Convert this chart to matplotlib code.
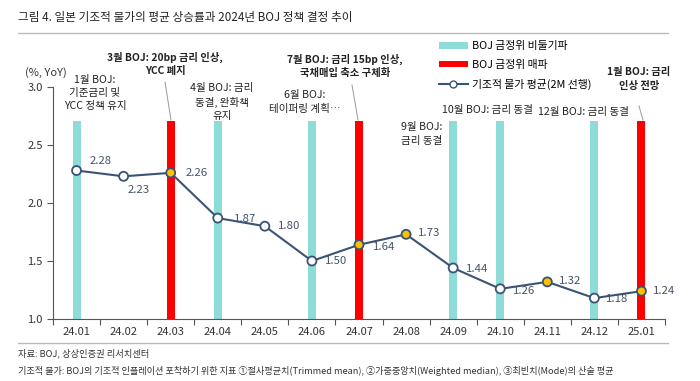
import matplotlib
matplotlib.use("Agg")
import matplotlib.pyplot as plt
from matplotlib.lines import Line2D
from matplotlib.patches import Patch

plt.rcParams['font.family'] = ['Noto Sans CJK KR', 'DejaVu Sans']

categories = ['24.01', '24.02', '24.03', '24.04', '24.05', '24.06', '24.07',
              '24.08', '24.09', '24.10', '24.11', '24.12', '25.01']
values = [2.28, 2.23, 2.26, 1.87, 1.80, 1.50, 1.64, 1.73, 1.44, 1.26, 1.32, 1.18, 1.24]
dove_idx = [0, 3, 5, 8, 9, 11]      # BOJ 금정위 비둘기파
hawk_idx = [2, 6, 12]               # BOJ 금정위 매파
yellow_idx = [2, 6, 7, 10, 12]
bar_top = 2.71
label_offsets = [(23, 9), (14, -13), (25, 0), (26, -1), (23, 0), (23, 0), (24, -2),
                 (22, 1), (23, -1), (23, -2), (22, 1), (22, -1), (22, 0)]

TEAL = '#8DDCD8'
RED = '#FF0000'
LINE = '#3B5375'
LBL = '#44546A'

fig = plt.figure(figsize=(7, 3.81), dpi=100)
ax = fig.add_axes([53/700, 1 - 319/381, 612/700, (319-87)/381])

x = list(range(len(categories)))
ax.bar(dove_idx, [bar_top - 1.0]*len(dove_idx), bottom=1.0, width=0.17, color=TEAL, zorder=1)
ax.bar(hawk_idx, [bar_top - 1.0]*len(hawk_idx), bottom=1.0, width=0.17, color=RED, zorder=1)
ax.plot(x, values, color=LINE, lw=1.5, zorder=2)
face = ['#FFC000' if i in yellow_idx else 'white' for i in x]
ax.scatter(x, values, s=42, facecolors=face, edgecolors=LINE, linewidths=1.3, zorder=3)
for i, v in enumerate(values):
    dx, dy = label_offsets[i]
    ax.annotate(f'{v:.2f}', (i, v), xytext=(dx * 0.75, dy * 0.75), textcoords='offset points',
                ha='center', va='center', fontsize=8.2, color=LBL)

ax.set_xlim(-0.5, len(categories) - 0.5)
ax.set_ylim(1.0, 3.0)
ax.set_yticks([1.0, 1.5, 2.0, 2.5, 3.0])
ax.set_yticklabels(['1.0', '1.5', '2.0', '2.5', '3.0'])
ax.set_xticks([i - 0.5 for i in range(len(categories) + 1)])
ax.set_xticklabels([])
ax.set_xticks(x, minor=True)
ax.set_xticklabels(categories, minor=True)
ax.tick_params(axis='x', which='minor', length=0, pad=6, labelsize=8, labelcolor='#333333')
ax.tick_params(axis='x', which='major', length=4, color='#555555')
ax.tick_params(axis='y', length=4, color='#555555', labelsize=8, labelcolor='#333333')
for s in ['top', 'right']:
    ax.spines[s].set_visible(False)
for s in ['left', 'bottom']:
    ax.spines[s].set_color('#555555')
    ax.spines[s].set_linewidth(0.8)

fig.text(25/700, 1 - 73/381, '(%, YoY)', fontsize=8, color='#333333', va='center')

# annotations
def ftext(px, py, s, bold=False, fs=7.6):
    fig.text(px/700, 1 - py/381, s, ha='center', va='center', fontsize=fs,
             fontweight='bold' if bold else 'normal', color='#222222', linespacing=1.4)

ftext(95, 93, '1월 BOJ:\n기준금리 및\nYCC 정책 유지')
ftext(165, 64, '3월 BOJ: 20bp 금리 인상,\nYCC 폐지', bold=True, fs=7.4)
ftext(222, 102, '4월 BOJ: 금리\n동결, 완화책\n유지')
ftext(305, 102, '6월 BOJ:\n테이퍼링 계획…')
ftext(345, 66, '7월 BOJ: 금리 15bp 인상,\n국채매입 축소 구체화', bold=True, fs=7.4)
ftext(422, 134, '9월 BOJ:\n금리 동결')
ftext(488, 110, '10월 BOJ: 금리 동결')
ftext(584, 112, '12월 BOJ: 금리 동결')
ftext(639, 79, '1월 BOJ: 금리\n인상 전망', bold=True, fs=7.4)

def leader(x0, y0, x1, y1):
    fig.add_artist(Line2D([x0/700, x1/700], [1 - y0/381, 1 - y1/381], color='#999999', lw=0.7))

leader(165, 82, 171, 120)
leader(352, 85, 358, 120)
leader(639, 106, 643, 120)

handles = [Patch(facecolor=TEAL, edgecolor='none'),
           Patch(facecolor=RED, edgecolor='none'),
           Line2D([0], [0], color=LINE, lw=1.5, marker='o', markerfacecolor='white',
                  markeredgecolor=LINE, markersize=5)]
labels = ['BOJ 금정위 비둘기파', 'BOJ 금정위 매파', '기조적 물가 평균(2M 선행)']
fig.legend(handles, labels, loc='upper left', bbox_to_anchor=(435/700, 1 - 37/381),
           frameon=False, fontsize=7.8, handlelength=2.6, handleheight=0.5,
           labelspacing=0.8, handletextpad=0.4, borderaxespad=0)

# title and frame lines
fig.text(18/700, 1 - 18/381, '그림 4. 일본 기조적 물가의 평균 상승률과 2024년 BOJ 정책 결정 추이',
         fontsize=8.4, va='center', color='#222222')
fig.add_artist(Line2D([18/700, 668/700], [1 - 33/381, 1 - 33/381], color='#BBBBBB', lw=1))
fig.add_artist(Line2D([18/700, 668/700], [1 - 343/381, 1 - 343/381], color='#BBBBBB', lw=1))
fig.text(18/700, 1 - 353/381, '자료: BOJ, 상상인증권 리서치센터', fontsize=6.7, va='center', color='#333333')
fig.text(18/700, 1 - 371/381,
         '기조적 물가: BOJ의 기조적 인플레이션 포착하기 위한 지표 ①절사평균치(Trimmed mean), ②가중중앙치(Weighted median), ③최빈치(Mode)의 산술 평균',
         fontsize=6.6, va='center', color='#333333')

fig.savefig('out.png', dpi=100)
